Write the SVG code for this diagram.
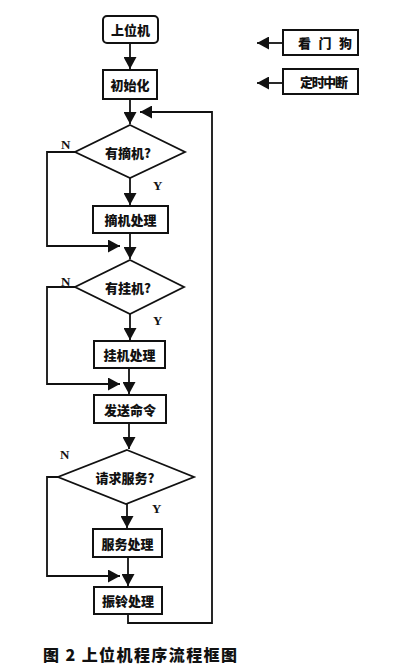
<svg xmlns="http://www.w3.org/2000/svg" width="402" height="670" viewBox="0 0 402 670">
<defs>
<marker id="ah" markerUnits="userSpaceOnUse" markerWidth="13" markerHeight="13" refX="12" refY="6.5" orient="auto">
<path d="M0,0 L12,6.5 L0,13 z" fill="#111"/>
</marker>
<style>
.box{fill:#fff;stroke:#111;stroke-width:2}
.dia{fill:#fff;stroke:#111;stroke-width:1.8}
.t{font-family:"Noto Sans CJK SC","Noto Sans CJK JP",sans-serif;font-size:13px;font-weight:900;fill:#111;text-anchor:middle;dominant-baseline:central}
.l{font-family:"Liberation Serif",serif;font-size:13px;font-weight:bold;fill:#111}
.c{fill:none;stroke:#111;stroke-width:1.8}
</style>
</defs>
<rect width="402" height="670" fill="#fff"/>
<g id="connectors">
<path class="c" d="M130,43 V69" marker-end="url(#ah)"/>
<path class="c" d="M130,99 V124" marker-end="url(#ah)"/>
<path class="c" d="M130,178 V205" marker-end="url(#ah)"/>
<path class="c" d="M130,233 V259" marker-end="url(#ah)"/>
<path class="c" d="M130,314 V340" marker-end="url(#ah)"/>
<path class="c" d="M129,368 V394" marker-end="url(#ah)"/>
<path class="c" d="M129,423 V449" marker-end="url(#ah)"/>
<path class="c" d="M127,504 V528" marker-end="url(#ah)"/>
<path class="c" d="M128,557 V586" marker-end="url(#ah)"/>
<path class="c" d="M75,152 H47 V246 H120" marker-end="url(#ah)"/>
<path class="c" d="M75,287 H47 V384 H120" marker-end="url(#ah)"/>
<path class="c" d="M58,477 H47 V576 H120" marker-end="url(#ah)"/>
<path class="c" d="M128,614 V623 H212 V112 H140" marker-end="url(#ah)"/>
<path class="c" d="M283,43 H257" marker-end="url(#ah)"/>
<path class="c" d="M283,83 H257" marker-end="url(#ah)"/>
</g>
<g id="host"><rect class="box" x="103" y="16" width="55" height="27" rx="4"/><text class="t" x="130.5" y="29.5">上位机</text></g>
<g id="init"><rect class="box" x="103" y="70" width="54" height="29"/><text class="t" x="130" y="84.5">初始化</text></g>
<g id="watchdog"><rect class="box" x="283" y="30" width="75" height="25"/><text class="t" x="325" y="42.5" textLength="54" lengthAdjust="spacing" xml:space="preserve">看 门 狗</text></g>
<g id="timer"><rect class="box" x="283" y="69" width="75" height="25"/><text class="t" x="324" y="81.5" textLength="48" lengthAdjust="spacing">定时中断</text></g>
<g id="q-offhook"><polygon class="dia" points="130,125 185,152 130,178 75,152"/><text class="t" x="128" y="152">有摘机?</text></g>
<g id="offhook"><rect class="box" x="93" y="206" width="75" height="27"/><text class="t" x="130.5" y="219.5">摘机处理</text></g>
<g id="q-onhook"><polygon class="dia" points="130,260 184,287 130,314 75,287"/><text class="t" x="128" y="287">有挂机?</text></g>
<g id="onhook"><rect class="box" x="94" y="341" width="71" height="27"/><text class="t" x="129.5" y="354.5">挂机处理</text></g>
<g id="send"><rect class="box" x="94" y="395" width="72" height="28"/><text class="t" x="130" y="409">发送命令</text></g>
<g id="q-service"><polygon class="dia" points="127,450 194,477 126,504 58,477"/><text class="t" x="125" y="477">请求服务?</text></g>
<g id="service"><rect class="box" x="93" y="529" width="69" height="28"/><text class="t" x="127.5" y="543">服务处理</text></g>
<g id="ring"><rect class="box" x="94" y="587" width="68" height="27"/><text class="t" x="128" y="600.5">振铃处理</text></g>
<g id="labels">
<text class="l" x="61" y="149">N</text>
<text class="l" x="153" y="190">Y</text>
<text class="l" x="61" y="286">N</text>
<text class="l" x="153" y="325">Y</text>
<text class="l" x="60" y="459">N</text>
<text class="l" x="152" y="513">Y</text>
</g>
<text x="43" y="661" font-family="'Noto Sans CJK SC',sans-serif" font-size="16" font-weight="900" fill="#111" textLength="194" lengthAdjust="spacing" xml:space="preserve">图 2 上位机程序流程框图</text>
</svg>
